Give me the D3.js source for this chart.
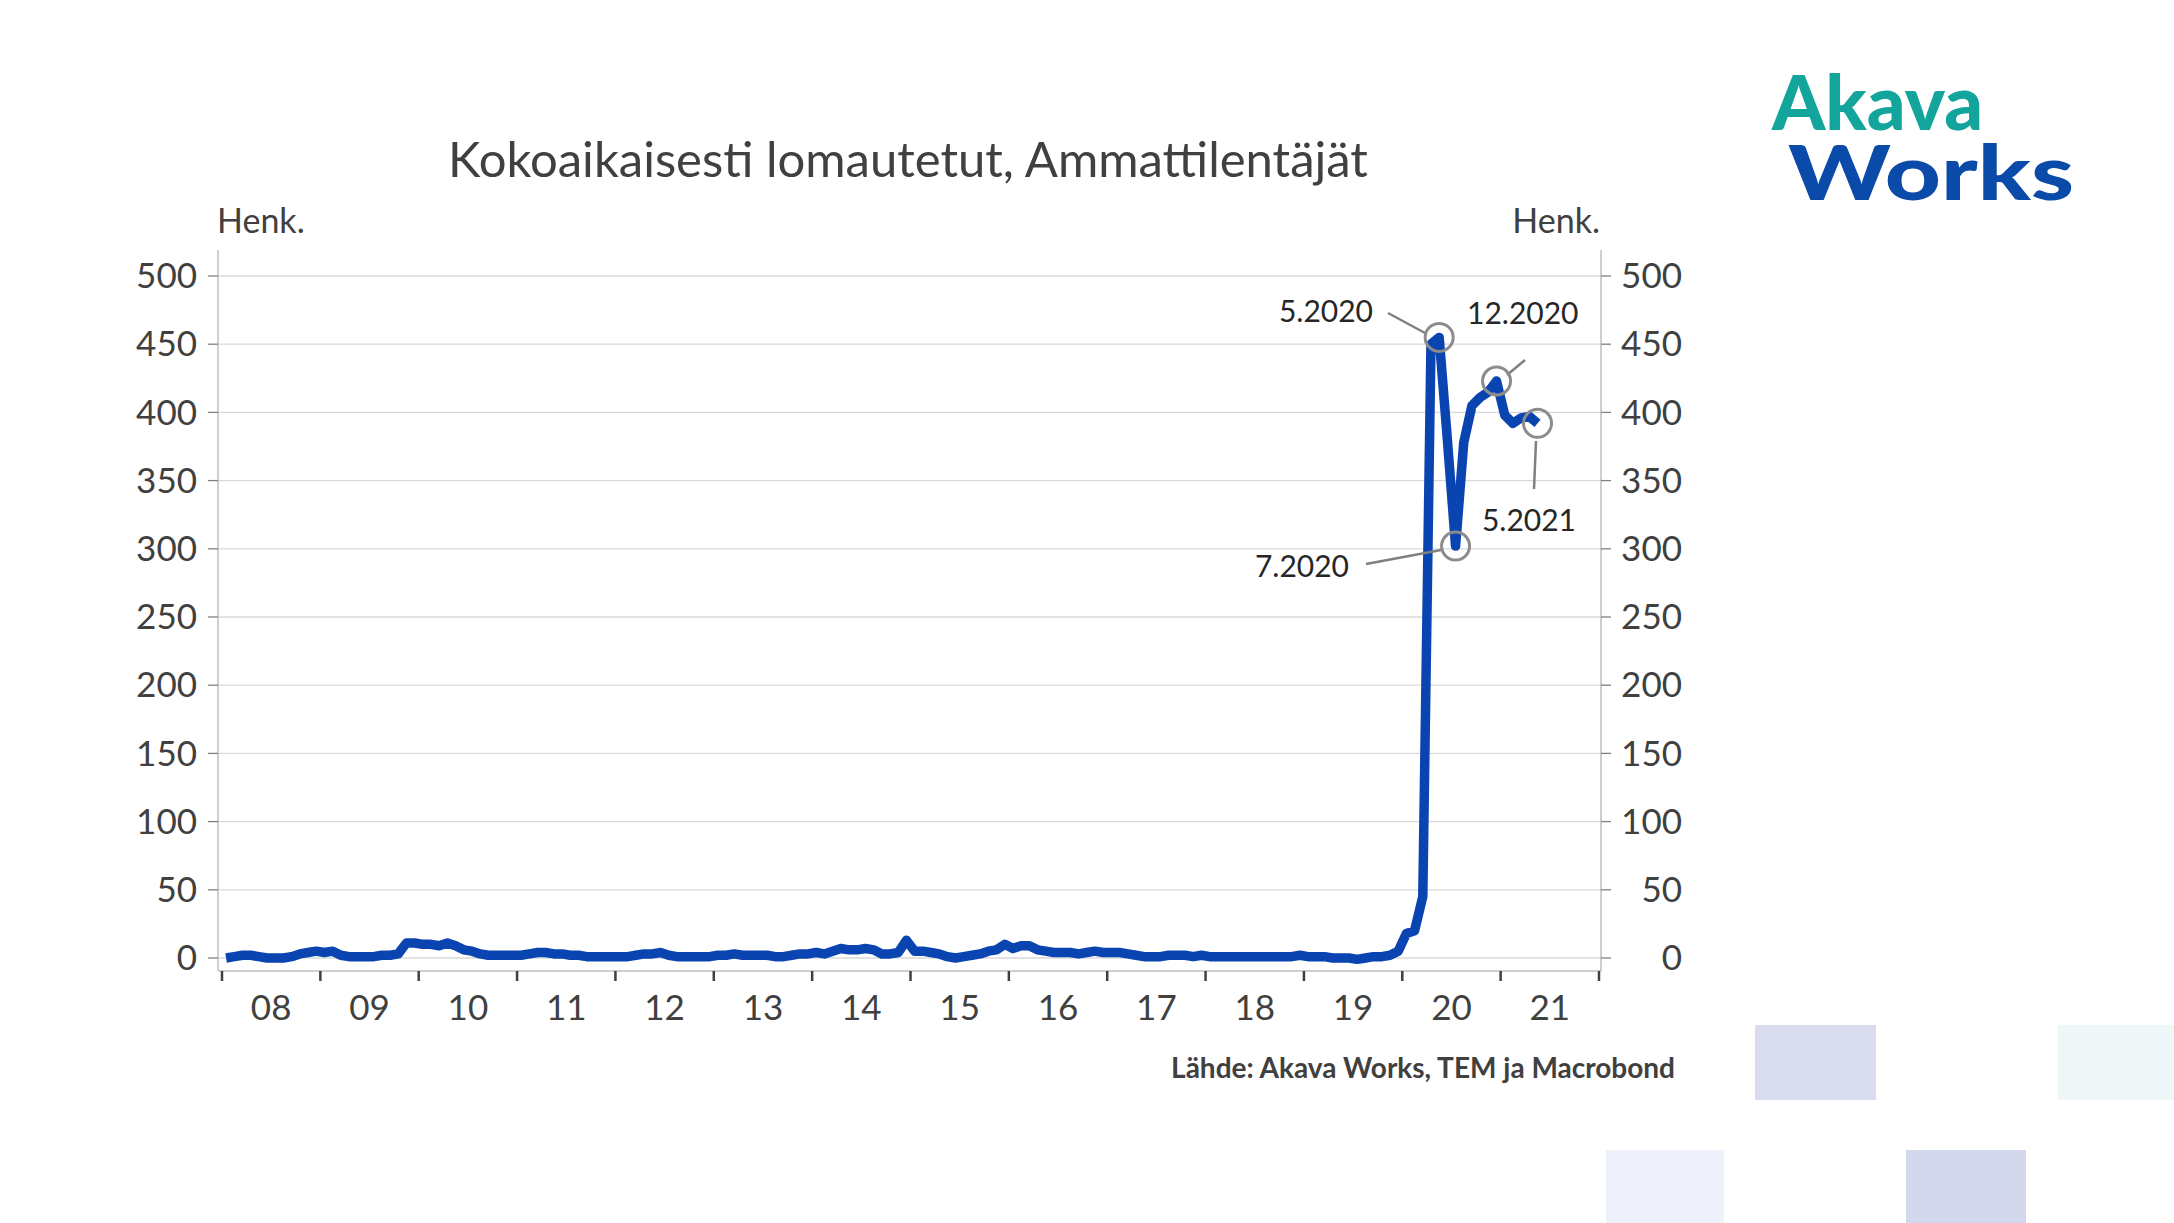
<!DOCTYPE html>
<html><head><meta charset="utf-8">
<script src="https://cdn.jsdelivr.net/npm/d3@7"></script>
<style>body{margin:0;background:#fff}svg{display:block}</style>
</head><body>
<script>
// monthly values, Jan 2008 .. May 2021
const y2008 = [0,1,2,2,1,0,0,0,1,3,4,5];
const y2009 = [4,5,2,1,1,1,1,2,2,3,11,11];
const y2010 = [10,10,9,11,9,6,5,3,2,2,2,2];
const y2011 = [2,3,4,4,3,3,2,2,1,1,1,1];
const y2012 = [1,1,2,3,3,4,2,1,1,1,1,1];
const y2013 = [2,2,3,2,2,2,2,1,1,2,3,3];
const y2014 = [4,3,5,7,6,6,7,6,3,3,4,13];
const y2015 = [5,5,4,3,1,0,1,2,3,5,6,10];
const y2016 = [7,9,9,6,5,4,4,4,3,4,5,4];
const y2017 = [4,4,3,2,1,1,1,2,2,2,1,2];
const y2018 = [1,1,1,1,1,1,1,1,1,1,1,2];
const y2019 = [1,1,1,0,0,0,-1,0,1,1,2,5];
const y2020 = [18,20,45,450,455,380,302,378,405,411,415,423];
const y2021 = [398,392,396,397,392];
const values = [].concat(y2008,y2009,y2010,y2011,y2012,y2013,y2014,y2015,y2016,y2017,y2018,y2019,y2020,y2021);
const yearLabels = ["08","09","10","11","12","13","14","15","16","17","18","19","20","21"];
const yTicks = [0,50,100,150,200,250,300,350,400,450,500];
const notes = [
  {label:"5.2020", i:148, tx:1373, ty:311, anchor:"end", lx1:1388, ly1:313, lx2:1425, ly2:333},
  {label:"12.2020", i:155, tx:1467, ty:313, anchor:"start", lx1:1525, ly1:360, lx2:1507, ly2:375},
  {label:"5.2021", i:160, tx:1576, ty:520, anchor:"end", lx1:1534, ly1:489, lx2:1536, ly2:441},
  {label:"7.2020", i:150, tx:1349, ty:566, anchor:"end", lx1:1366, ly1:564, lx2:1441, ly2:550}
];

const W = 2174, H = 1223;
const svg = d3.select("body").append("svg").attr("width", W).attr("height", H)
  .style("font-family", "Lato, 'Open Sans', sans-serif");

const left = 218, right = 1601;
const x = d3.scaleLinear().domain([0, 168]).range([222, 1599]);
const y = d3.scaleLinear().domain([0, 500]).range([958, 276]);

// gridlines
svg.append("g").selectAll("line").data(yTicks).join("line")
  .attr("x1", left).attr("x2", right).attr("y1", d => y(d)).attr("y2", d => y(d))
  .attr("stroke", "#d9d9d9").attr("stroke-width", 1.3);

// axes lines
svg.append("line").attr("x1", left).attr("x2", left).attr("y1", 250).attr("y2", 971).attr("stroke", "#bfbfbf").attr("stroke-width", 1.5);
svg.append("line").attr("x1", right).attr("x2", right).attr("y1", 250).attr("y2", 971).attr("stroke", "#bfbfbf").attr("stroke-width", 1.5);
svg.append("line").attr("x1", left).attr("x2", right).attr("y1", 971).attr("y2", 971).attr("stroke", "#bfbfbf").attr("stroke-width", 1.5);

// y tick labels
const yl = svg.append("g").attr("font-size", 35).attr("fill", "#404040");
yl.selectAll(".l").data(yTicks).join("text").attr("x", 197).attr("y", d => y(d)).attr("dy", "0.35em")
  .attr("text-anchor", "end").text(d => d);
yl.selectAll(".r").data(yTicks).join("text").attr("x", 1682).attr("y", d => y(d)).attr("dy", "0.35em")
  .attr("text-anchor", "end").text(d => d);
svg.append("g").selectAll("line").data(yTicks).join("line")
  .attr("x1", right).attr("x2", right + 10).attr("y1", d => y(d)).attr("y2", d => y(d))
  .attr("stroke", "#808080").attr("stroke-width", 1.3);
svg.append("g").selectAll("line").data(yTicks).join("line")
  .attr("x1", left - 10).attr("x2", left).attr("y1", d => y(d)).attr("y2", d => y(d))
  .attr("stroke", "#808080").attr("stroke-width", 1.3);

// x ticks + labels
svg.append("g").selectAll("line").data(d3.range(15)).join("line")
  .attr("x1", d => x(d * 12)).attr("x2", d => x(d * 12)).attr("y1", 971).attr("y2", 981)
  .attr("stroke", "#404040").attr("stroke-width", 2.5);
svg.append("g").attr("font-size", 35).attr("fill", "#404040").selectAll("text").data(yearLabels).join("text")
  .attr("x", (d, i) => x(i * 12 + 6)).attr("y", 1020).attr("text-anchor", "middle").text(d => d);

// line
svg.append("path").datum(values)
  .attr("fill", "none").attr("stroke", "#0a44b0").attr("stroke-width", 9.5).attr("stroke-linejoin", "round")
  .attr("d", d3.line().x((d, i) => x(i + 0.5)).y(d => y(d)));

// annotations
const an = svg.append("g");
notes.forEach(n => {
  an.append("line").attr("x1", n.lx1).attr("y1", n.ly1).attr("x2", n.lx2).attr("y2", n.ly2)
    .attr("stroke", "#808080").attr("stroke-width", 2.5);
  an.append("circle").attr("cx", x(n.i + 0.5)).attr("cy", y(values[n.i])).attr("r", 14)
    .attr("fill", "none").attr("stroke", "#8c8c8c").attr("stroke-width", 3);
  an.append("text").attr("x", n.tx).attr("y", n.ty).attr("dy", "0.35em").attr("text-anchor", n.anchor)
    .attr("font-size", 30).attr("fill", "#262626").text(n.label);
});

// titles
svg.append("text").attr("x", 908).attr("y", 177).attr("text-anchor", "middle")
  .attr("font-size", 49).attr("fill", "#404040").text("Kokoaikaisesti lomautetut, Ammattilentäjät");
svg.append("text").attr("x", 217).attr("y", 233).attr("font-size", 34).attr("fill", "#404040").text("Henk.");
svg.append("text").attr("x", 1600).attr("y", 233).attr("text-anchor", "end").attr("font-size", 34).attr("fill", "#404040").text("Henk.");
svg.append("text").attr("x", 1675).attr("y", 1078).attr("text-anchor", "end").attr("font-size", 28)
  .attr("font-weight", "bold").attr("fill", "#404040").text("Lähde: Akava Works, TEM ja Macrobond");

// logo
svg.append("text").attr("x", 1772).attr("y", 130).attr("font-size", 76).attr("font-weight", "900")
  .attr("fill", "#13a59b").text("Akava");
svg.append("text").attr("x", 1788).attr("y", 200).attr("font-size", 76).attr("font-weight", "900")
  .attr("fill", "#0a4aa8").attr("textLength", 286).attr("lengthAdjust", "spacingAndGlyphs").text("Works");

// decorative squares
const squares = [[1755,1025,121,75,"#d9dcef"],[2058,1025,116,75,"#eef6f7"],[1606,1150,118,73,"#eef1f9"],[1906,1150,120,73,"#d3d8ec"]];
svg.append("g").selectAll("rect").data(squares).join("rect")
  .attr("x", d => d[0]).attr("y", d => d[1]).attr("width", d => d[2]).attr("height", d => d[3]).attr("fill", d => d[4]);
</script>
</body></html>
